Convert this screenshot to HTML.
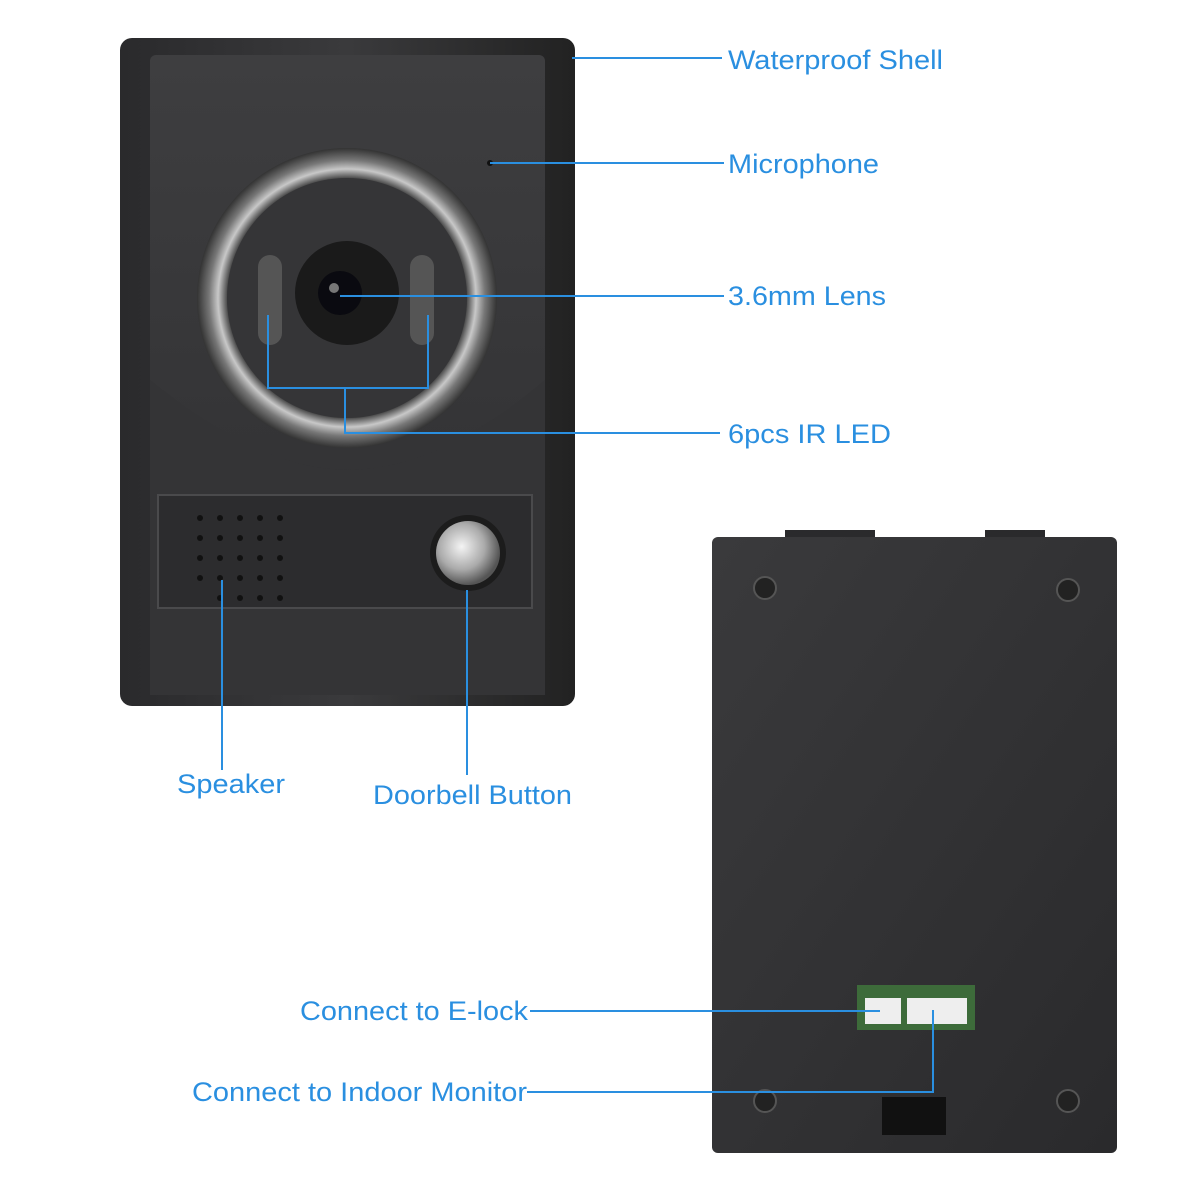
<!DOCTYPE html>
<html><head><meta charset="utf-8"><style>
html,body{margin:0;padding:0;background:#fff;}
svg{display:block}
text{font-family:"Liberation Sans",sans-serif;font-size:27px;fill:#2a8fe0}
</style></head><body>
<svg width="1200" height="1200" viewBox="0 0 1200 1200" xmlns="http://www.w3.org/2000/svg">
<defs>
<linearGradient id="shell" x1="0" y1="0" x2="1" y2="0">
<stop offset="0" stop-color="#2a2a2c"/><stop offset="0.5" stop-color="#3a3a3c"/><stop offset="1" stop-color="#222"/></linearGradient>
<linearGradient id="face" x1="0" y1="0" x2="0" y2="1">
<stop offset="0" stop-color="#3e3e40"/><stop offset="1" stop-color="#2e2e30"/></linearGradient>
<radialGradient id="ring" cx="0.5" cy="0.5" r="0.5">
<stop offset="0.78" stop-color="#222"/><stop offset="0.86" stop-color="#c8c8c8"/><stop offset="0.92" stop-color="#777"/><stop offset="1" stop-color="#333"/></radialGradient>
<radialGradient id="btn" cx="0.4" cy="0.4" r="0.6">
<stop offset="0" stop-color="#f4f4f4"/><stop offset="0.6" stop-color="#aaa"/><stop offset="1" stop-color="#555"/></radialGradient>
<linearGradient id="back" x1="0" y1="0" x2="1" y2="1">
<stop offset="0" stop-color="#3a3a3c"/><stop offset="1" stop-color="#2a2a2c"/></linearGradient>
</defs>
<rect x="120" y="38" width="455" height="668" rx="12" fill="url(#shell)"/>
<rect x="150" y="55" width="395" height="640" rx="6" fill="url(#face)"/>
<path d="M150 380 Q260 470 347 470 Q440 470 545 380 L545 695 L150 695Z" fill="#343436"/>
<circle cx="347" cy="298" r="150" fill="url(#ring)"/>
<circle cx="347" cy="298" r="120" fill="#353537"/>
<circle cx="347" cy="293" r="52" fill="#1a1a1a"/>
<circle cx="340" cy="293" r="22" fill="#0a0a10"/>
<circle cx="334" cy="288" r="5" fill="#777"/>
<rect x="258" y="255" width="24" height="90" rx="12" fill="#555"/>
<rect x="410" y="255" width="24" height="90" rx="12" fill="#555"/>
<circle cx="490" cy="163" r="3" fill="#111"/>
<rect x="158" y="495" width="374" height="113" fill="#2c2c2e" stroke="#4a4a4c" stroke-width="2"/>
<g fill="#111">
<circle cx="200" cy="518" r="3"/><circle cx="220" cy="518" r="3"/><circle cx="240" cy="518" r="3"/><circle cx="260" cy="518" r="3"/><circle cx="280" cy="518" r="3"/>
<circle cx="200" cy="538" r="3"/><circle cx="220" cy="538" r="3"/><circle cx="240" cy="538" r="3"/><circle cx="260" cy="538" r="3"/><circle cx="280" cy="538" r="3"/>
<circle cx="200" cy="558" r="3"/><circle cx="220" cy="558" r="3"/><circle cx="240" cy="558" r="3"/><circle cx="260" cy="558" r="3"/><circle cx="280" cy="558" r="3"/>
<circle cx="200" cy="578" r="3"/><circle cx="220" cy="578" r="3"/><circle cx="240" cy="578" r="3"/><circle cx="260" cy="578" r="3"/><circle cx="280" cy="578" r="3"/>
<circle cx="220" cy="598" r="3"/><circle cx="240" cy="598" r="3"/><circle cx="260" cy="598" r="3"/><circle cx="280" cy="598" r="3"/>
</g>
<circle cx="468" cy="553" r="38" fill="#1c1c1c"/>
<circle cx="468" cy="553" r="32" fill="url(#btn)"/>
<rect x="785" y="530" width="90" height="12" fill="#2a2a2c"/>
<rect x="985" y="530" width="60" height="12" fill="#2a2a2c"/>
<rect x="712" y="537" width="405" height="616" rx="6" fill="url(#back)"/>
<g fill="#222" stroke="#555" stroke-width="2">
<circle cx="765" cy="588" r="11"/><circle cx="1068" cy="590" r="11"/>
<circle cx="765" cy="1101" r="11"/><circle cx="1068" cy="1101" r="11"/></g>
<rect x="857" y="985" width="118" height="45" fill="#3d6b3a"/>
<rect x="865" y="998" width="36" height="26" fill="#eee"/>
<rect x="907" y="998" width="60" height="26" fill="#eee"/>
<rect x="882" y="1097" width="64" height="38" fill="#111"/>
<g stroke="#2a8fe0" stroke-width="2" fill="none">
<path d="M572 58 H722"/>
<path d="M490 163 H724"/>
<path d="M340 296 H724"/>
<path d="M268 315 V388 H428 V315"/>
<path d="M345 388 V433 H720"/>
<path d="M222 580 V770"/>
<path d="M467 590 V775"/>
<path d="M530 1011 H880"/>
<path d="M527 1092 H933 V1010"/>
</g>
<text x="728" y="69" textLength="215" lengthAdjust="spacingAndGlyphs">Waterproof Shell</text>
<text x="728" y="173" textLength="151" lengthAdjust="spacingAndGlyphs">Microphone</text>
<text x="728" y="305" textLength="158" lengthAdjust="spacingAndGlyphs">3.6mm Lens</text>
<text x="728" y="443" textLength="163" lengthAdjust="spacingAndGlyphs">6pcs IR LED</text>
<text x="177" y="793" textLength="108" lengthAdjust="spacingAndGlyphs">Speaker</text>
<text x="373" y="804" textLength="199" lengthAdjust="spacingAndGlyphs">Doorbell Button</text>
<text x="300" y="1020" textLength="228" lengthAdjust="spacingAndGlyphs">Connect to E-lock</text>
<text x="192" y="1101" textLength="335" lengthAdjust="spacingAndGlyphs">Connect to Indoor Monitor</text>
</svg>
</body></html>
